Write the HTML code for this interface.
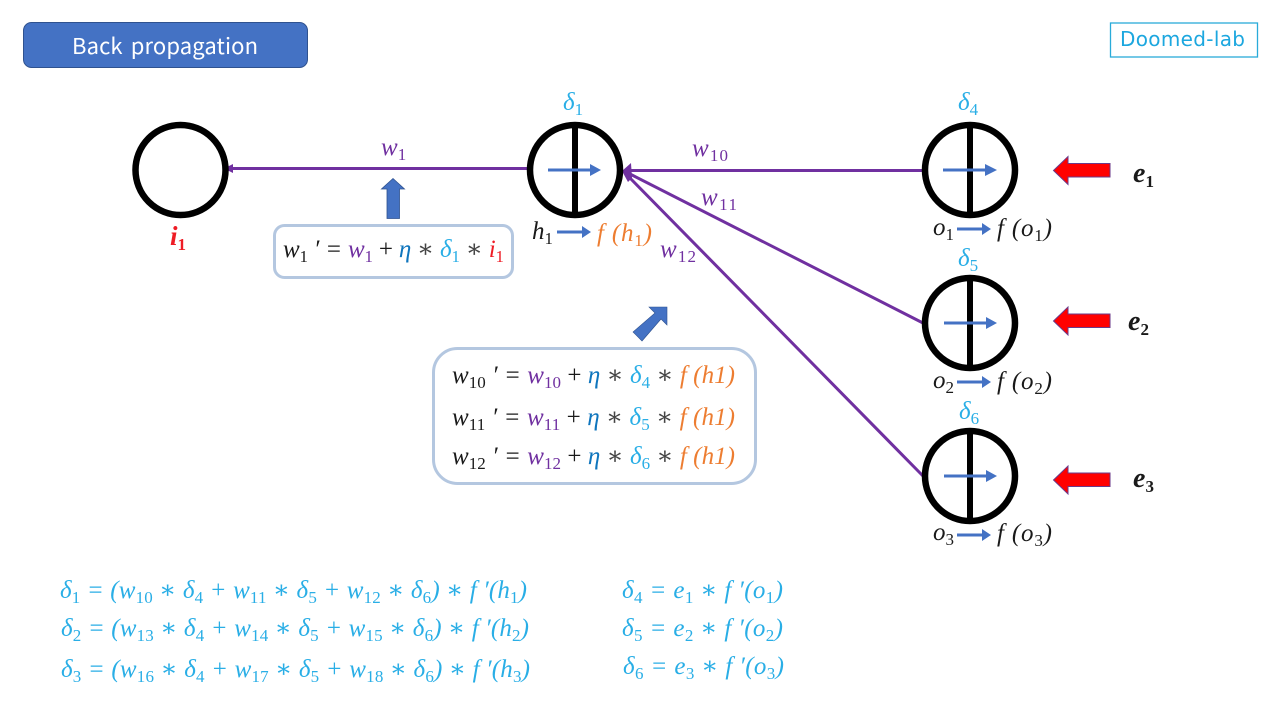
<!DOCTYPE html>
<html><head><meta charset="utf-8"><style>
html,body{margin:0;padding:0;background:#fff}
svg{display:block}
text{font-family:"Liberation Serif","DejaVu Serif",serif;font-style:italic;font-size:25px;white-space:pre}
.s{font-size:17px;font-style:normal;baseline-shift:-5px}
.n{font-style:normal}
.k{fill:#1a1a1a}.p{fill:#7030a0}.c{fill:#29aee6}.b{fill:#0f75bd}.o{fill:#ed7d31}.r{fill:#ee1c25}.g{fill:#444}
.bd{font-weight:bold}
</style></head><body>
<svg width="1280" height="720" viewBox="0 0 1280 720" xmlns="http://www.w3.org/2000/svg">
<rect x="23.5" y="22.5" width="284" height="45" rx="8" fill="#4472c4" stroke="#2f528f"/>
<text x="72" y="54" textLength="186" style="font-family:'Noto Sans CJK KR','Liberation Sans',sans-serif;font-size:22px;font-style:normal;word-spacing:3px" fill="#fff">Back propagation</text>
<rect x="1110.5" y="23" width="147" height="34" fill="#fff" stroke="#29abd9" stroke-width="1.3"/>
<text x="1120" y="46" textLength="125" style="font-family:'DejaVu Sans',sans-serif;font-size:20px;font-style:normal" fill="#1ca7df">Doomed-lab</text>

<g stroke="#7030a0" stroke-width="3" fill="none">
<line x1="527" y1="168.5" x2="232" y2="168.5"/>
<line x1="923" y1="170.5" x2="630" y2="170.5"/>
<line x1="923" y1="323" x2="630" y2="174"/>
<line x1="923" y1="476" x2="628" y2="176"/>
</g>
<g fill="#7030a0">
<path d="M224,168.5 L233,164 L233,173 Z"/>
<path d="M622,171 L631,163 L632,178 L628,182 Z"/>
</g>

<g fill="#fff" stroke="#000" stroke-width="6.500">
<circle cx="180.500" cy="170" r="45"/>
<circle cx="575" cy="170" r="45"/>
<circle cx="970" cy="170" r="45"/>
<circle cx="970" cy="323" r="45"/>
<circle cx="970" cy="476" r="45"/>
</g>
<g stroke="#000" stroke-width="6">
<line x1="575" y1="125" x2="575" y2="216"/>
<line x1="970" y1="125" x2="970" y2="216"/>
<line x1="970" y1="278" x2="970" y2="369"/>
<line x1="970" y1="431" x2="970" y2="522"/>
</g>

<g fill="#4472c4">
<path d="M548,168.500H590V164L601,170L590,176V171.500H548Z"/>
<path d="M943,168.500H985V164L997,170L985,176V171.500H943Z"/>
<path d="M944,321.500H986V317L997,323L986,329V324.500H944Z"/>
<path d="M944,474.500H986V470L997,476L986,482V477.500H944Z"/>
<path d="M557,230.500H582V226L591,232L582,238V233.500H557Z"/>
<path d="M957,227.500H982V223L991,229L982,235V230.500H957Z"/>
<path d="M957,380.500H982V376L991,382L982,388V383.500H957Z"/>
<path d="M957,533.500H982V529L991,535L982,541V536.500H957Z"/>
<path d="M393,178.500L404.500,189H399.500V218.500H387V189H381.500Z" stroke="#2f528f" stroke-width=".8"/>
<path d="M667,307V325L661,319L642,341L633,332L655,313L649,307Z" stroke="#2f528f" stroke-width=".6"/>
</g>
<g fill="#ff0000" stroke="#6a3a8a" stroke-width="1">
<path d="M1053.500,170.500L1068,156.500V163.500H1110V177H1068V184.500Z"/>
<path d="M1053.500,321L1068,307V314H1110V327.500H1068V335Z"/>
<path d="M1053.500,480L1068,466V473H1110V486.500H1068V494Z"/>
</g>

<rect x="274.500" y="225.500" width="238" height="52" rx="10" fill="#fff" stroke="#b4c7e0" stroke-width="3"/>
<rect x="433.500" y="348.500" width="322" height="135" rx="24" fill="#fff" stroke="#b4c7e0" stroke-width="3"/>

<text x="563" y="110" class="c">δ<tspan class="s">1</tspan></text>
<text x="958" y="110" class="c">δ<tspan class="s">4</tspan></text>
<text x="958" y="266" class="c">δ<tspan class="s">5</tspan></text>
<text x="959" y="419" class="c">δ<tspan class="s">6</tspan></text>

<text x="381" y="155" class="p">w<tspan class="s">1</tspan></text>
<text x="692" y="156" class="p" textLength="36">w<tspan class="s">10</tspan></text>
<text x="701" y="205" class="p" textLength="36">w<tspan class="s">11</tspan></text>
<text x="660" y="257" class="p" textLength="36">w<tspan class="s">12</tspan></text>

<text x="170" y="245" class="r bd" style="font-size:27px">i<tspan class="s bd">1</tspan></text>
<text x="532" y="239" class="k">h<tspan class="s">1</tspan></text>
<text x="597" y="241" class="o" textLength="55">f (h<tspan class="s">1</tspan>)</text>

<text x="933" y="235" class="k">o<tspan class="s">1</tspan></text>
<text x="997" y="236" class="k" textLength="55">f (o<tspan class="s">1</tspan>)</text>
<text x="933" y="388" class="k">o<tspan class="s">2</tspan></text>
<text x="997" y="389" class="k" textLength="55">f (o<tspan class="s">2</tspan>)</text>
<text x="933" y="540" class="k">o<tspan class="s">3</tspan></text>
<text x="997" y="541" class="k" textLength="55">f (o<tspan class="s">3</tspan>)</text>

<text x="1133" y="182" class="k bd" style="font-size:28px">e<tspan class="s bd">1</tspan></text>
<text x="1128" y="330" class="k bd" style="font-size:28px">e<tspan class="s bd">2</tspan></text>
<text x="1133" y="487" class="k bd" style="font-size:28px">e<tspan class="s bd">3</tspan></text>

<text x="283" y="257" textLength="221"><tspan class="k">w<tspan class="s">1</tspan> ′ = </tspan><tspan class="p">w<tspan class="s">1</tspan></tspan><tspan class="k n"> + </tspan><tspan class="b">η</tspan><tspan class="g n"> ∗ </tspan><tspan class="c">δ<tspan class="s">1</tspan></tspan><tspan class="g n"> ∗ </tspan><tspan class="r">i<tspan class="s">1</tspan></tspan></text>

<text x="452" y="383" textLength="283"><tspan class="k">w<tspan class="s">10</tspan> ′ = </tspan><tspan class="p">w<tspan class="s">10</tspan></tspan><tspan class="k n"> + </tspan><tspan class="b">η</tspan><tspan class="g n"> ∗ </tspan><tspan class="c">δ<tspan class="s">4</tspan></tspan><tspan class="g n"> ∗ </tspan><tspan class="o">f (h1)</tspan></text>
<text x="452" y="425" textLength="283"><tspan class="k">w<tspan class="s">11</tspan> ′ = </tspan><tspan class="p">w<tspan class="s">11</tspan></tspan><tspan class="k n"> + </tspan><tspan class="b">η</tspan><tspan class="g n"> ∗ </tspan><tspan class="c">δ<tspan class="s">5</tspan></tspan><tspan class="g n"> ∗ </tspan><tspan class="o">f (h1)</tspan></text>
<text x="452" y="464" textLength="283"><tspan class="k">w<tspan class="s">12</tspan> ′ = </tspan><tspan class="p">w<tspan class="s">12</tspan></tspan><tspan class="k n"> + </tspan><tspan class="b">η</tspan><tspan class="g n"> ∗ </tspan><tspan class="c">δ<tspan class="s">6</tspan></tspan><tspan class="g n"> ∗ </tspan><tspan class="o">f (h1)</tspan></text>

<text x="60" y="598" textLength="467" class="c">δ<tspan class="s">1</tspan> = (w<tspan class="s">10</tspan> ∗ δ<tspan class="s">4</tspan> + w<tspan class="s">11</tspan> ∗ δ<tspan class="s">5</tspan> + w<tspan class="s">12</tspan> ∗ δ<tspan class="s">6</tspan>) ∗ f ′(h<tspan class="s">1</tspan>)</text>
<text x="61" y="636" textLength="468" class="c">δ<tspan class="s">2</tspan> = (w<tspan class="s">13</tspan> ∗ δ<tspan class="s">4</tspan> + w<tspan class="s">14</tspan> ∗ δ<tspan class="s">5</tspan> + w<tspan class="s">15</tspan> ∗ δ<tspan class="s">6</tspan>) ∗ f ′(h<tspan class="s">2</tspan>)</text>
<text x="61" y="677" textLength="469" class="c">δ<tspan class="s">3</tspan> = (w<tspan class="s">16</tspan> ∗ δ<tspan class="s">4</tspan> + w<tspan class="s">17</tspan> ∗ δ<tspan class="s">5</tspan> + w<tspan class="s">18</tspan> ∗ δ<tspan class="s">6</tspan>) ∗ f ′(h<tspan class="s">3</tspan>)</text>
<text x="622" y="598" textLength="161" class="c">δ<tspan class="s">4</tspan> = e<tspan class="s">1</tspan> ∗ f ′(o<tspan class="s">1</tspan>)</text>
<text x="622" y="636" textLength="161" class="c">δ<tspan class="s">5</tspan> = e<tspan class="s">2</tspan> ∗ f ′(o<tspan class="s">2</tspan>)</text>
<text x="623" y="674" textLength="161" class="c">δ<tspan class="s">6</tspan> = e<tspan class="s">3</tspan> ∗ f ′(o<tspan class="s">3</tspan>)</text>
</svg>
</body></html>
